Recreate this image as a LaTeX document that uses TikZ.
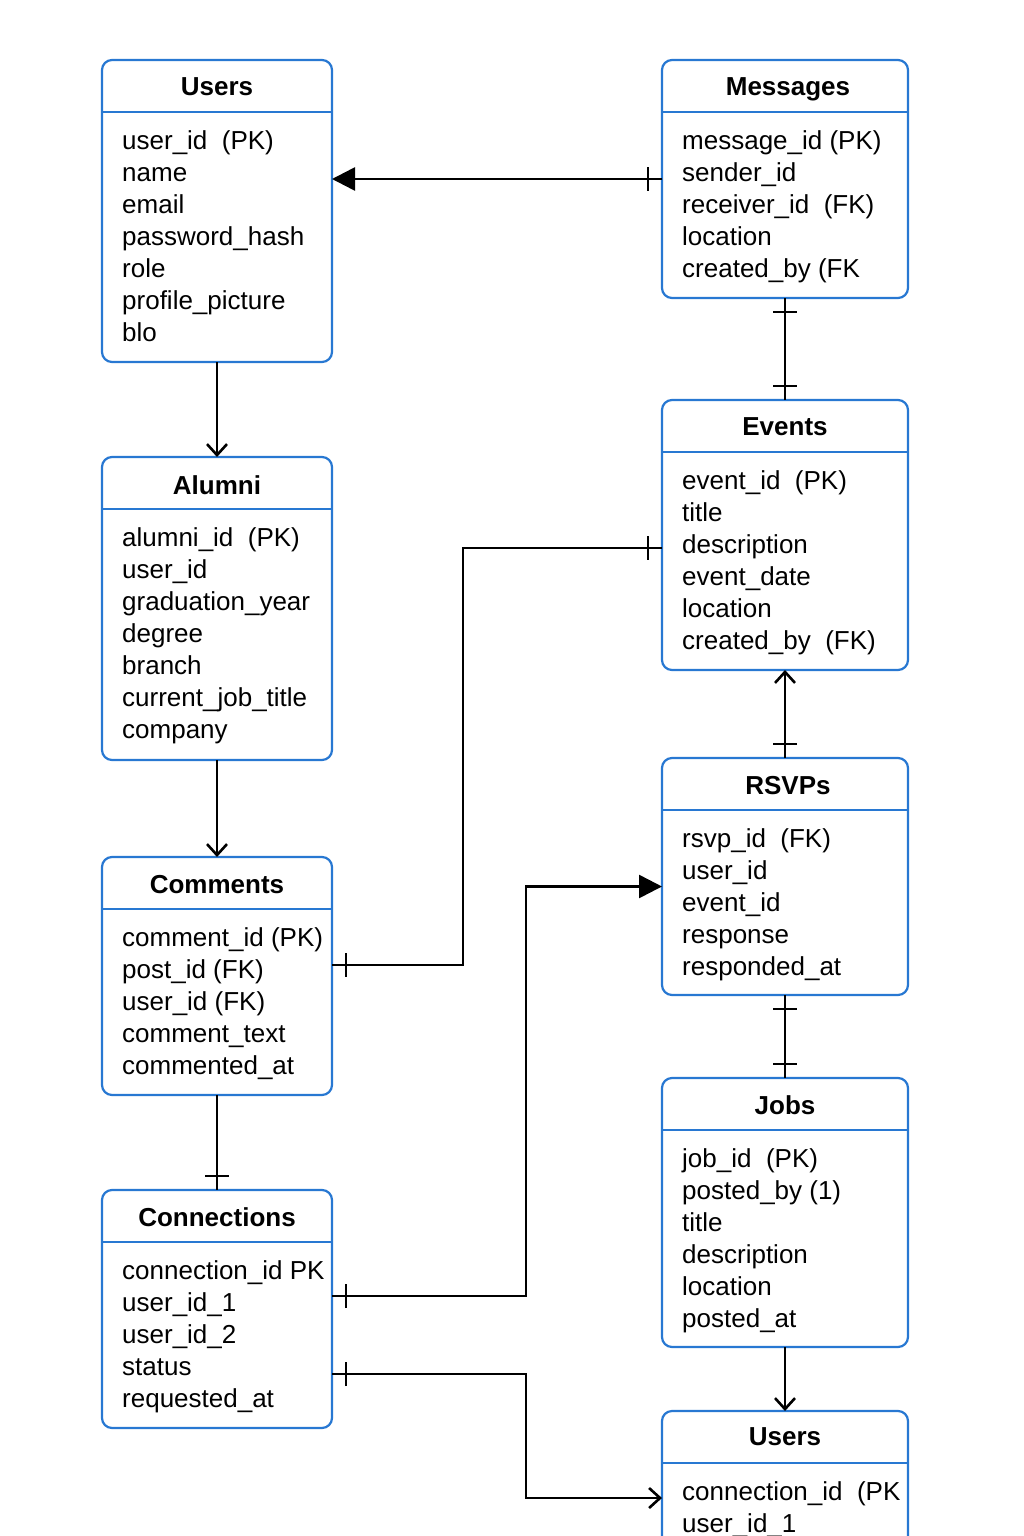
\documentclass[tikz,border=0pt]{standalone}
\usepackage{fontspec}
\setmainfont{Liberation Sans}
\usetikzlibrary{arrows.meta}
\usetikzlibrary{decorations.markings}
\definecolor{tblblue}{RGB}{40,120,210}

\begin{document}
\begin{tikzpicture}[x=1pt,y=-1pt,
    tbl/.style={draw=tblblue, line width=2.2pt, rounded corners=10pt, anchor=north west, inner sep=0pt, outer sep=0pt},
    hdr/.style={draw=tblblue, line width=2.2pt},
    ttl/.style={font=\fontsize{26}{30}\selectfont\bfseries, text depth=0pt},
    fld/.style={anchor=north west, align=left, inner sep=0pt, font=\fontsize{26}{32}\selectfont},
    conn/.style={line width=2.6pt},
    onestart/.style={postaction={decorate, decoration={markings,
        mark=at position 14pt with {\draw[arrows=-, line width=2.6pt] (0,-12pt) -- (0,12pt);}}}},
    oneend/.style={postaction={decorate, decoration={markings,
        mark=at position -14pt with {\draw[arrows=-, line width=2.6pt] (0,-12pt) -- (0,12pt);}}}},
    toopen/.style={-{Straight Barb[length=11pt,width=20pt]}},
    tofull/.style={-{Triangle[length=23pt,width=23pt]}}]
\useasboundingbox (0,0) rectangle (1024,1536);
\clip (0,0) rectangle (1024,1536);

\node[tbl, minimum width=230pt, minimum height=302pt] (usr) at (102,60) {};
\draw[hdr] ([yshift=-52pt]usr.north west) -- ([yshift=-52pt]usr.north east);
\node[ttl] (usrT) at ([yshift=-27pt]usr.north) {Users};
\node[fld] (usrF) at ([xshift=20pt,yshift=-67pt]usr.north west)
    {\strut user\_id~~(PK)\\name\\email\\password\_hash\\role\\profile\_picture\\blo};

\node[tbl, minimum width=246pt, minimum height=238pt] (msg) at (662,60) {};
\draw[hdr] ([yshift=-52pt]msg.north west) -- ([yshift=-52pt]msg.north east);
\node[ttl] (msgT) at ([xshift=3pt,yshift=-27pt]msg.north) {Messages};
\node[fld] (msgF) at ([xshift=20pt,yshift=-67pt]msg.north west)
    {\strut message\_id (PK)\\sender\_id\\receiver\_id~~(FK)\\location\\created\_by (FK};

\node[tbl, minimum width=230pt, minimum height=303pt] (alm) at (102,457) {};
\draw[hdr] ([yshift=-52pt]alm.north west) -- ([yshift=-52pt]alm.north east);
\node[ttl] (almT) at ([yshift=-28pt]alm.north) {Alumni};
\node[fld] (almF) at ([xshift=20pt,yshift=-67pt]alm.north west)
    {\strut alumni\_id~~(PK)\\user\_id\\graduation\_year\\degree\\branch\\current\_job\_title\\company};

\node[tbl, minimum width=246pt, minimum height=270pt] (evt) at (662,400) {};
\draw[hdr] ([yshift=-52pt]evt.north west) -- ([yshift=-52pt]evt.north east);
\node[ttl] (evtT) at ([yshift=-27pt]evt.north) {Events};
\node[fld] (evtF) at ([xshift=20pt,yshift=-67pt]evt.north west)
    {\strut event\_id~~(PK)\\title\\description\\event\_date\\location\\created\_by~~(FK)};

\node[tbl, minimum width=246pt, minimum height=237pt] (rsv) at (662,758) {};
\draw[hdr] ([yshift=-52pt]rsv.north west) -- ([yshift=-52pt]rsv.north east);
\node[ttl] (rsvT) at ([xshift=3pt,yshift=-27pt]rsv.north) {RSVPs};
\node[fld] (rsvF) at ([xshift=20pt,yshift=-67pt]rsv.north west)
    {\strut rsvp\_id~~(FK)\\user\_id\\event\_id\\response\\responded\_at};

\node[tbl, minimum width=230pt, minimum height=238pt] (cmt) at (102,857) {};
\draw[hdr] ([yshift=-52pt]cmt.north west) -- ([yshift=-52pt]cmt.north east);
\node[ttl] (cmtT) at ([yshift=-27pt]cmt.north) {Comments};
\node[fld] (cmtF) at ([xshift=20pt,yshift=-67pt]cmt.north west)
    {\strut comment\_id (PK)\\post\_id (FK)\\user\_id (FK)\\comment\_text\\commented\_at};

\node[tbl, minimum width=246pt, minimum height=269pt] (job) at (662,1078) {};
\draw[hdr] ([yshift=-52pt]job.north west) -- ([yshift=-52pt]job.north east);
\node[ttl] (jobT) at ([yshift=-27pt]job.north) {Jobs};
\node[fld] (jobF) at ([xshift=20pt,yshift=-67pt]job.north west)
    {\strut job\_id~~(PK)\\posted\_by (1)\\title\\description\\location\\posted\_at};

\node[tbl, minimum width=230pt, minimum height=238pt] (con) at (102,1190) {};
\draw[hdr] ([yshift=-52pt]con.north west) -- ([yshift=-52pt]con.north east);
\node[ttl] (conT) at ([yshift=-27pt]con.north) {Connections};
\node[fld] (conF) at ([xshift=20pt,yshift=-67pt]con.north west)
    {\strut connection\_id PK\\user\_id\_1\\user\_id\_2\\status\\requested\_at};

\node[tbl, minimum width=246pt, minimum height=200pt] (usb) at (662,1411) {};
\draw[hdr] ([yshift=-52pt]usb.north west) -- ([yshift=-52pt]usb.north east);
\node[ttl] (usbT) at ([yshift=-26pt]usb.north) {Users};
\node[fld] (usbF) at ([xshift=20pt,yshift=-67pt]usb.north west)
    {\strut connection\_id~~(PK\\user\_id\_1};

\draw[conn, tofull, onestart] (msg.west) -- (msg.west -| usr.east);
\draw[conn, toopen] (usr.south) -- (alm.north);
\draw[conn, onestart, oneend] (msg.south) -- (evt.north);
\draw[conn, onestart, oneend] ([yshift=-13pt]evt.west) -- ++(-199,0) |- ([yshift=11pt]cmt.east);
\draw[conn, toopen] (alm.south) -- (cmt.north);
\draw[conn, toopen, onestart] (rsv.north) -- (evt.south);
\draw[conn, tofull, onestart] ([yshift=13pt]con.east) -- ++(194,0) |- ([yshift=-10pt]rsv.west);
\draw[conn, onestart, oneend] (rsv.south) -- (job.north);
\draw[conn, oneend] (cmt.south) -- (con.north);
\draw[conn, toopen, onestart] ([yshift=-65pt]con.east) -- ++(194,0) |- ([yshift=13pt]usb.west);
\draw[conn, toopen] (job.south) -- (usb.north);
\end{tikzpicture}
\end{document}
